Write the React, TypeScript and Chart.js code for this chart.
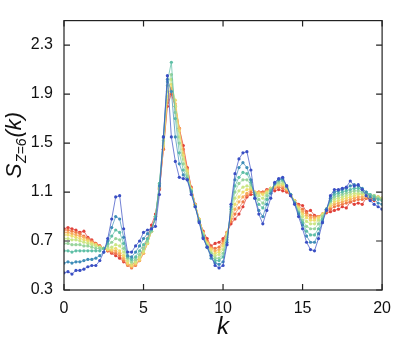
import React, { useEffect, useRef } from 'react';
import { Chart, registerables } from 'chart.js';
Chart.register(...registerables);

const K = [0,0.25,0.5,0.75,1,1.25,1.5,1.75,2,2.25,2.5,2.75,3,3.25,3.5,3.75,4,4.25,4.5,4.75,5,5.25,5.5,5.75,6,6.25,6.5,6.75,7,7.25,7.5,7.75,8,8.25,8.5,8.75,9,9.25,9.5,9.75,10,10.25,10.5,10.75,11,11.25,11.5,11.75,12,12.25,12.5,12.75,13,13.25,13.5,13.75,14,14.25,14.5,14.75,15,15.25,15.5,15.75,16,16.25,16.5,16.75,17,17.25,17.5,17.75,18,18.25,18.5,18.75,19,19.25,19.5,19.75,20];

const X_TICKS = [0, 5, 10, 15, 20];
const Y_TICKS = [0.3, 0.7, 1.1, 1.5, 1.9, 2.3];

const S_RED = [
  0.80,0.81,0.80,0.79,0.77,0.78,0.73,0.71,0.68,0.66,
  0.64,0.62,0.60,0.58,0.56,0.53,0.51,0.50,0.53,0.57,
  0.64,0.72,0.83,0.92,1.12,1.45,1.80,1.90,1.80,1.62,
  1.48,1.30,1.14,1.00,0.87,0.78,0.72,0.66,0.68,0.69,
  0.72,0.77,0.84,0.88,0.92,0.98,1.06,1.08,1.08,1.10,
  1.10,1.12,1.13,1.11,1.12,1.11,1.10,1.07,1.03,1.00,
  0.99,0.94,0.95,0.91,0.90,0.92,0.93,0.94,0.95,0.96,
  0.98,0.97,1.02,1.00,1.01,1.00,1.05,1.04,1.03,1.06,
  1.04];
const S_ORANGE = [
  0.79,0.79,0.78,0.77,0.76,0.74,0.72,0.70,0.68,0.66,
  0.64,0.62,0.61,0.60,0.58,0.54,0.50,0.48,0.50,0.54,
  0.60,0.68,0.78,0.90,1.13,1.45,1.83,1.93,1.80,1.62,
  1.45,1.29,1.13,1.00,0.88,0.77,0.70,0.65,0.64,0.65,
  0.70,0.77,0.86,0.92,0.97,1.02,1.07,1.10,1.09,1.10,
  1.10,1.11,1.13,1.13,1.14,1.13,1.11,1.07,1.03,0.99,
  0.96,0.93,0.91,0.90,0.90,0.92,0.94,0.96,0.98,0.99,
  1.00,1.01,1.02,1.03,1.04,1.04,1.05,1.05,1.05,1.05,
  1.05];
const S_LORANGE = [
  0.77,0.77,0.76,0.75,0.74,0.73,0.71,0.69,0.67,0.65,
  0.64,0.63,0.62,0.62,0.60,0.56,0.51,0.49,0.51,0.54,
  0.60,0.68,0.78,0.90,1.14,1.47,1.85,1.95,1.82,1.62,
  1.42,1.28,1.13,1.00,0.88,0.77,0.69,0.64,0.62,0.63,
  0.68,0.77,0.88,0.96,1.02,1.06,1.09,1.12,1.10,1.10,
  1.09,1.11,1.13,1.14,1.15,1.15,1.12,1.08,1.03,0.98,
  0.94,0.91,0.89,0.89,0.90,0.92,0.95,0.98,1.00,1.01,
  1.02,1.03,1.04,1.05,1.06,1.06,1.06,1.06,1.06,1.05,
  1.05];
const S_YELLOW = [
  0.75,0.75,0.74,0.73,0.72,0.71,0.70,0.68,0.67,0.65,
  0.64,0.63,0.63,0.64,0.62,0.58,0.52,0.50,0.52,0.55,
  0.61,0.68,0.78,0.90,1.15,1.48,1.88,1.98,1.85,1.60,
  1.40,1.27,1.12,0.99,0.88,0.76,0.68,0.63,0.60,0.61,
  0.66,0.76,0.90,1.00,1.06,1.10,1.12,1.13,1.10,1.09,
  1.08,1.10,1.13,1.15,1.16,1.16,1.13,1.08,1.03,0.97,
  0.92,0.89,0.87,0.87,0.89,0.92,0.96,0.99,1.02,1.03,
  1.04,1.05,1.06,1.07,1.08,1.08,1.07,1.07,1.07,1.06,
  1.05];
const S_YGREEN = [
  0.72,0.72,0.71,0.71,0.70,0.69,0.68,0.67,0.66,0.65,
  0.64,0.64,0.65,0.67,0.66,0.61,0.54,0.52,0.53,0.57,
  0.62,0.69,0.78,0.90,1.16,1.50,1.92,2.02,1.80,1.55,
  1.37,1.25,1.12,0.99,0.87,0.76,0.67,0.61,0.58,0.59,
  0.63,0.75,0.92,1.05,1.11,1.14,1.15,1.14,1.10,1.07,
  1.05,1.09,1.13,1.16,1.17,1.17,1.14,1.08,1.02,0.96,
  0.90,0.86,0.84,0.84,0.87,0.91,0.96,1.01,1.04,1.05,
  1.06,1.07,1.08,1.09,1.09,1.09,1.08,1.07,1.07,1.06,
  1.05];
const S_LGREEN = [
  0.68,0.68,0.67,0.67,0.67,0.66,0.66,0.65,0.64,0.64,
  0.64,0.66,0.69,0.72,0.71,0.64,0.56,0.53,0.55,0.59,
  0.64,0.70,0.78,0.90,1.17,1.52,1.97,2.06,1.75,1.50,
  1.33,1.23,1.11,0.99,0.87,0.75,0.66,0.60,0.56,0.56,
  0.60,0.73,0.94,1.10,1.17,1.20,1.20,1.16,1.09,1.04,
  1.01,1.07,1.12,1.16,1.18,1.19,1.14,1.08,1.02,0.94,
  0.87,0.82,0.80,0.80,0.84,0.90,0.96,1.02,1.06,1.07,
  1.08,1.09,1.10,1.11,1.11,1.10,1.09,1.08,1.07,1.05,
  1.04];
const S_TEAL = [
  0.62,0.62,0.61,0.62,0.62,0.62,0.62,0.62,0.62,0.62,
  0.64,0.68,0.74,0.79,0.77,0.68,0.57,0.55,0.57,0.62,
  0.67,0.72,0.79,0.90,1.17,1.55,2.00,2.16,1.70,1.42,
  1.28,1.21,1.11,0.98,0.86,0.74,0.65,0.58,0.54,0.54,
  0.57,0.71,0.96,1.15,1.22,1.26,1.25,1.18,1.07,1.00,
  0.97,1.04,1.11,1.17,1.20,1.20,1.15,1.08,1.01,0.93,
  0.85,0.78,0.75,0.75,0.80,0.88,0.96,1.03,1.08,1.09,
  1.10,1.11,1.12,1.13,1.13,1.12,1.10,1.08,1.06,1.04,
  1.03];
const S_STEEL = [
  0.52,0.53,0.52,0.53,0.53,0.54,0.55,0.55,0.56,0.58,
  0.61,0.70,0.81,0.90,0.88,0.73,0.58,0.57,0.61,0.66,
  0.72,0.76,0.80,0.88,1.15,1.55,2.02,1.92,1.55,1.33,
  1.24,1.20,1.10,0.98,0.86,0.73,0.65,0.56,0.52,0.51,
  0.53,0.69,0.98,1.20,1.30,1.34,1.30,1.20,1.05,0.95,
  0.90,1.00,1.09,1.17,1.20,1.21,1.15,1.08,1.01,0.92,
  0.83,0.74,0.69,0.69,0.76,0.86,0.96,1.05,1.10,1.11,
  1.12,1.13,1.15,1.16,1.15,1.13,1.10,1.06,1.04,1.01,
  1.00];
const S_BLUE = [
  0.44,0.45,0.43,0.46,0.46,0.47,0.49,0.50,0.50,0.54,
  0.61,0.72,0.88,1.06,1.07,0.80,0.61,0.61,0.66,0.70,
  0.77,0.79,0.80,0.82,1.08,1.55,2.05,1.55,1.35,1.22,
  1.21,1.20,1.08,0.98,0.85,0.72,0.65,0.58,0.50,0.48,
  0.50,0.67,1.00,1.25,1.37,1.42,1.43,1.28,1.05,0.92,
  0.84,0.95,1.05,1.18,1.21,1.22,1.15,1.07,1.00,0.90,
  0.80,0.69,0.63,0.62,0.72,0.85,0.95,1.07,1.12,1.12,
  1.13,1.14,1.19,1.15,1.16,1.12,1.07,1.03,1.00,0.98,
  0.96];

const SERIES = [S_RED, S_ORANGE, S_LORANGE, S_YELLOW, S_YGREEN, S_LGREEN, S_TEAL, S_STEEL, S_BLUE];
const COLORS = ['#e0403a', '#f07a48', '#f8ad5e', '#eedc6c', '#cbe685', '#98d49c', '#5fbfa6', '#3f8db8', '#3a4fc4'];

const FONT = '"Liberation Sans", Arial, Helvetica, sans-serif';

const framePlugin = {
  id: 'frameTicks',
  afterDraw(chart: any) {
    const { ctx, chartArea: a, scales } = chart;
    const xs = scales.x;
    const ys = scales.y;
    ctx.save();
    ctx.strokeStyle = '#222';
    ctx.lineWidth = 1.2;
    ctx.strokeRect(a.left, a.top, a.right - a.left, a.bottom - a.top);
    const L = 6;
    ctx.beginPath();
    for (const v of X_TICKS) {
      const px = xs.getPixelForValue(v);
      ctx.moveTo(px, a.bottom);
      ctx.lineTo(px, a.bottom - L);
      ctx.moveTo(px, a.top);
      ctx.lineTo(px, a.top + L);
    }
    for (const v of Y_TICKS) {
      const py = ys.getPixelForValue(v);
      ctx.moveTo(a.left, py);
      ctx.lineTo(a.left + L, py);
      ctx.moveTo(a.right, py);
      ctx.lineTo(a.right - L, py);
    }
    ctx.stroke();

    ctx.fillStyle = '#111';
    ctx.textBaseline = 'alphabetic';
    ctx.font = `italic 24px ${FONT}`;
    ctx.textAlign = 'center';
    ctx.fillText('k', (a.left + a.right) / 2, 334);

    ctx.translate(21, 145);
    ctx.rotate(-Math.PI / 2);
    ctx.textAlign = 'left';
    const big = `italic 22px ${FONT}`;
    const small = `italic 14px ${FONT}`;
    ctx.font = big;
    const w1 = ctx.measureText('S').width;
    ctx.font = small;
    const w2 = ctx.measureText('Z=6').width;
    ctx.font = big;
    const w3 = ctx.measureText('(k)').width;
    let x0 = -(w1 + w2 + w3 + 1.5) / 2;
    ctx.font = big;
    ctx.fillText('S', x0, 0);
    x0 += w1 + 0.5;
    ctx.font = small;
    ctx.fillText('Z=6', x0, 5);
    x0 += w2 + 1;
    ctx.font = big;
    ctx.fillText('(k)', x0, 0);
    ctx.restore();
  },
};

export default function App() {
  const ref = useRef<HTMLCanvasElement | null>(null);
  useEffect(() => {
    if (!ref.current) return;
    const datasets = SERIES.map((s, i) => ({
      data: K.map((k, j) => ({ x: k, y: s[j] })),
      borderColor: COLORS[i] + 'cc',
      backgroundColor: COLORS[i],
      borderWidth: 0.9,
      pointRadius: 1.6,
      pointBorderWidth: 0,
      pointBackgroundColor: COLORS[i],
      tension: 0,
      order: SERIES.length - 1 - i,
    }));
    const chart = new Chart(ref.current, {
      type: 'line',
      data: { datasets },
      options: {
        responsive: false,
        animation: false,
        parsing: false as any,
        layout: { padding: { top: 10, right: 17, left: 0, bottom: 0 } },
        plugins: { legend: { display: false }, tooltip: { enabled: false } },
        scales: {
          x: {
            type: 'linear',
            min: 0,
            max: 20,
            afterBuildTicks: (s: any) => { s.ticks = X_TICKS.map((v) => ({ value: v })); },
            afterFit: (s: any) => { s.height = 50; },
            grid: { display: false, drawTicks: false },
            border: { display: false },
            ticks: {
              padding: 9,
              maxRotation: 0,
              color: '#111',
              font: { family: FONT, size: 16 },
              callback: (v: any) => String(v),
            },
          },
          y: {
            type: 'linear',
            min: 0.3,
            max: 2.5,
            afterBuildTicks: (s: any) => { s.ticks = Y_TICKS.map((v) => ({ value: v })); },
            afterFit: (s: any) => { s.width = 64; },
            grid: { display: false, drawTicks: false },
            border: { display: false },
            ticks: {
              padding: 11,
              color: '#111',
              font: { family: FONT, size: 16 },
              callback: (v: any) => Number(v).toFixed(1),
            },
          },
        },
      },
      plugins: [framePlugin],
    });
    return () => chart.destroy();
  }, []);
  return (
    <div style={{ position: 'absolute', left: 0, top: 0, width: 400, height: 340, background: '#fff' }}>
      <canvas ref={ref} width={400} height={340} style={{ display: 'block' }} />
    </div>
  );
}
